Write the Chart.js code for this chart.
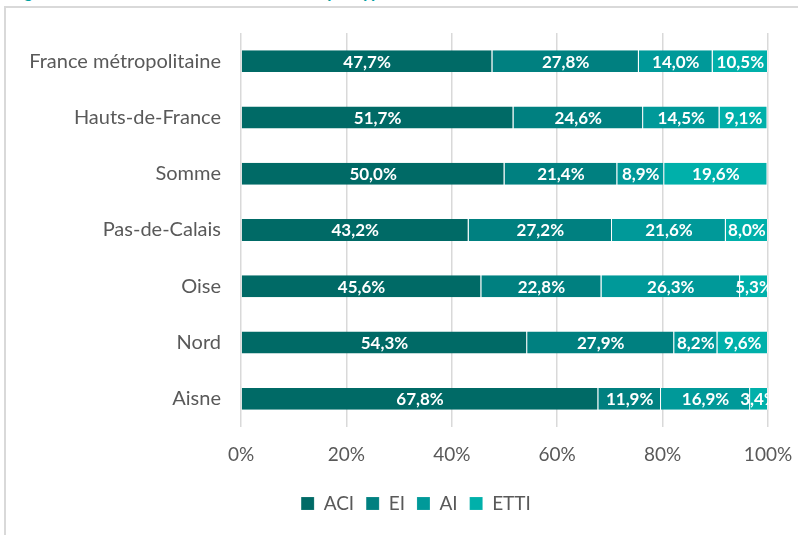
<!DOCTYPE html>
<html>
<head>
<meta charset="utf-8">
<script src="https://cdn.jsdelivr.net/npm/chart.js@4.4.0/dist/chart.umd.min.js"></script>
<style>
  html, body { margin:0; padding:0; background:#fff; overflow:hidden; }
  #wrap { position:relative; width:798px; height:535px; overflow:hidden; }
  #titre { position:absolute; left:10px; top:-17px; font:bold 17px Lato, sans-serif; line-height:17px; color:#00a0a0; white-space:nowrap; }
  #cadre { position:absolute; left:4px; top:6px; width:820px; height:560px; border:2px solid #d9d9d9; box-sizing:border-box; }
  #graph { position:absolute; left:0; top:0; }
</style>
</head>
<body>
<div id="wrap">
  <div id="titre">Figure 4 : Nombre de salariés en insertion par type de SIAE</div>
  <div id="cadre"></div>
  <canvas id="graph" width="798" height="535"></canvas>
</div>
<script>
// Territoires
var territoires = ["France métropolitaine", "Hauts-de-France", "Somme", "Pas-de-Calais", "Oise", "Nord", "Aisne"];
// Part de chaque type de structure (%)
var aci  = [47.7, 51.7, 50.0, 43.2, 45.6, 54.3, 67.8];
var ei   = [27.8, 24.6, 21.4, 27.2, 22.8, 27.9, 11.9];
var ai   = [14.0, 14.5,  8.9, 21.6, 26.3,  8.2, 16.9];
var etti = [10.5,  9.1, 19.6,  8.0,  5.3,  9.6,  3.4];
var ticks_x = [0, 20, 40, 60, 80, 100];

var couleurs = ['#006a66', '#008080', '#009999', '#00b0aa'];

// etiquettes blanches au centre des segments
var etiquettes = {
    id: 'etiquettes',
    afterLayout: function(chart){
        // legende un peu decalee vers la droite comme dans l'original
        chart.legend.left = 64;
        chart.legend.right = 768;
    },
    afterDatasetsDraw: function(chart){
        var ctx = chart.ctx;
        var zone = chart.chartArea;
        ctx.save();
        ctx.beginPath();
        ctx.rect(zone.left, zone.top, zone.right - zone.left, zone.bottom - zone.top);
        ctx.clip();
        ctx.fillStyle = '#ffffff';
        ctx.font = 'bold 17px Lato, sans-serif';
        ctx.textAlign = 'center';
        ctx.textBaseline = 'middle';
        chart.data.datasets.forEach(function(ds, i){
            var meta = chart.getDatasetMeta(i);
            meta.data.forEach(function(bar, j){
                var v = ds.data[j];
                var txt = v.toFixed(1).replace('.', ',') + '%';
                ctx.fillText(txt, (bar.x + bar.base) / 2, bar.y + 1);
            });
        });
        ctx.restore();
    }
};

var graph = document.getElementById("graph").getContext("2d");
var bieudo = new Chart(graph, {
    type: "bar",
    data: {
        labels: territoires,
        datasets: [
            { label: "ACI",  data: aci,  backgroundColor: couleurs[0] },
            { label: "EI",   data: ei,   backgroundColor: couleurs[1] },
            { label: "AI",   data: ai,   backgroundColor: couleurs[2] },
            { label: "ETTI", data: etti, backgroundColor: couleurs[3] }
        ]
    },
    options: {
        indexAxis: 'y',
        responsive: false,
        animation: false,
        datasets: {
            bar: {
                categoryPercentage: 1,
                barPercentage: 0.39,
                borderColor: 'rgba(255,255,255,0.55)',
                borderWidth: { right: 1, left: 0, top: 0, bottom: 0 },
                borderSkipped: false
            }
        },
        layout: { padding: { top: 33, right: 30, left: 0, bottom: 12 } },
        scales: {
            x: {
                stacked: true,
                min: 0,
                max: 100,
                afterBuildTicks: function(s){ s.ticks = ticks_x.map(function(v){ return { value: v }; }); },
                afterFit: function(s){ s.height = 55; s.paddingRight = 0; s.paddingLeft = 0; },
                grid: { color: '#d9d9d9', lineWidth: 1.5, drawTicks: false },
                border: { display: false },
                ticks: {
                    color: '#595959',
                    font: { family: 'Lato', size: 19 },
                    padding: 16,
                    callback: function(v){ return v + '%'; }
                }
            },
            y: {
                stacked: true,
                afterFit: function(s){ s.width = 241; },
                grid: { display: false, drawTicks: false },
                border: { display: false },
                ticks: {
                    color: '#595959',
                    font: { family: 'Lato', size: 20 },
                    padding: 20
                }
            }
        },
        plugins: {
            legend: {
                display: true,
                position: 'bottom',
                labels: {
                    color: '#595959',
                    font: { family: 'Lato', size: 19 },
                    boxWidth: 13,
                    boxHeight: 13,
                    padding: 12
                }
            },
            tooltip: { enabled: false },
            title: { display: false }
        }
    },
    plugins: [etiquettes]
});
</script>
</body>
</html>
